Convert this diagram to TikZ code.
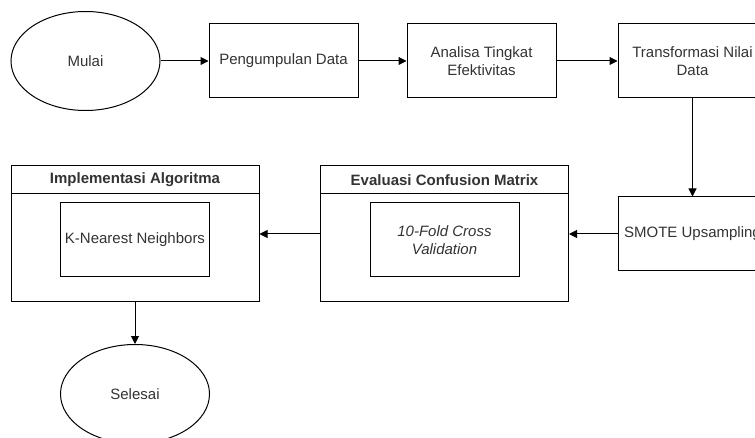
\documentclass[tikz,border=0pt]{standalone}
\usepackage{fontspec}
\setmainfont{Liberation Sans}
\usetikzlibrary{arrows.meta,shapes.geometric}
\begin{document}
\begin{tikzpicture}[x=1pt,y=-1pt,line width=1pt,font=\fontsize{15}{18}\selectfont,text=black!80,
  proc/.style={draw,rectangle,minimum width=149pt,minimum height=74pt,align=center,inner sep=0pt},
  term/.style={draw,ellipse,minimum width=149pt,minimum height=99pt,inner sep=0pt},
  wadah/.style={draw,rectangle,minimum width=248pt,minimum height=136pt,inner sep=0pt},
  panah/.style={-{Triangle[length=8pt,width=8pt]}}]
\useasboundingbox(0,0)rectangle(755,438);
\clip(0,0)rectangle(755,438);
\node[term](mulai)at(85.5,61){Mulai};
\node[proc](kumpul)at(283.5,61){Pengumpulan Data};
\node[proc](analisa)at(481.5,61){Analisa Tingkat\\Efektivitas};
\node[proc](trans)at(692.5,61){Transformasi Nilai\\Data};
\node[proc](smote)at(692.5,234){SMOTE Upsampling};
% wadah dengan judul
\node[wadah](eval)at(444.5,234){};
\draw([yshift=-28pt]eval.north west)--([yshift=-28pt]eval.north east);
\node[font=\fontsize{15}{18}\selectfont\bfseries](evalj)at(444.5,180){Evaluasi Confusion Matrix};
\node[proc,font=\fontsize{15}{18}\selectfont\itshape](cv)at(444.5,240){10-Fold Cross\\Validation};
\node[wadah](impl)at(135,234){};
\draw([yshift=-28pt]impl.north west)--([yshift=-28pt]impl.north east);
\node[font=\fontsize{15}{18}\selectfont\bfseries](implj)at(135,180){Implementasi Algoritma};
\node[proc](knn)at(135,240){K-Nearest Neighbors};
\node[term](selesai)at(135,394){Selesai};
\foreach \a/\b in {mulai/kumpul,kumpul/analisa,analisa/trans,trans/smote,smote/eval,eval/impl,impl/selesai}{
  \draw[panah](\a)--(\b);
}
\end{tikzpicture}
\end{document}
